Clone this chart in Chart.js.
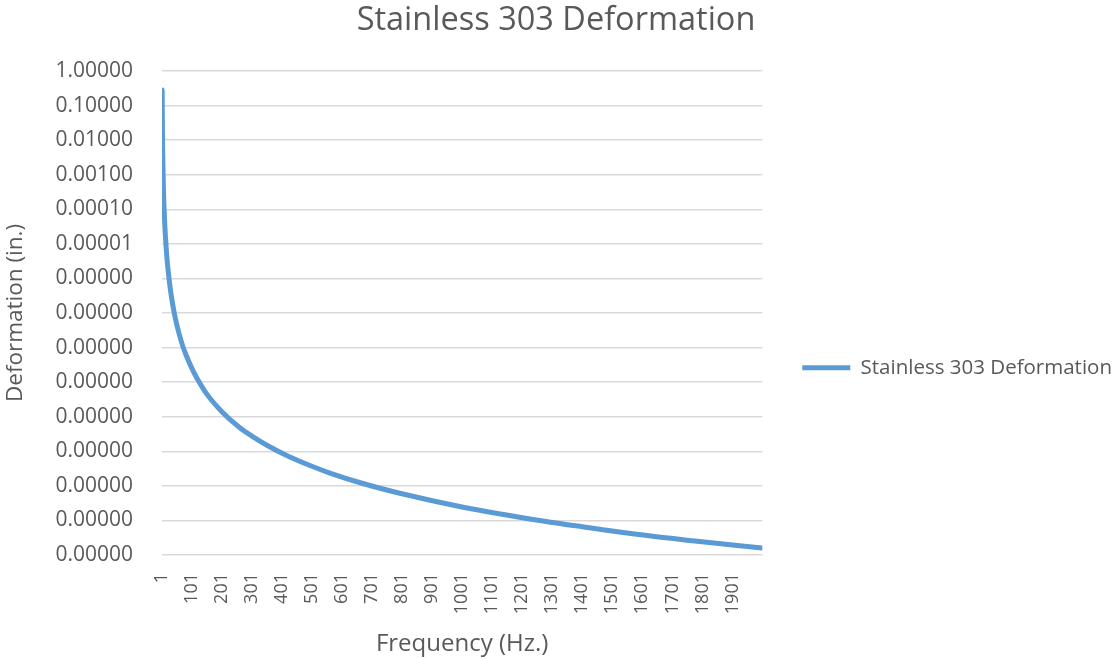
<!DOCTYPE html>
<html>
<head>
<meta charset="utf-8">
<title>Stainless 303 Deformation</title>
<script src="https://cdn.jsdelivr.net/npm/chart.js@4.4.0/dist/chart.umd.min.js"></script>
<style>
  html, body { margin: 0; padding: 0; background: #ffffff; }
  #wrap { width: 1117px; height: 659px; }
</style>
</head>
<body>
<div id="wrap"><canvas id="deformation-chart"></canvas></div>
<script>
const chartTitle = 'Stainless 303 Deformation';
const seriesName = 'Stainless 303 Deformation';
const xTitle = 'Frequency (Hz.)';
const yTitle = 'Deformation (in.)';

// frequency (Hz.) and deformation (in.)
const frequencies = [1, 2, 3, 5, 7, 10, 15, 20, 30, 40, 50, 67, 80, 100, 117, 150, 200,
  260, 300, 350, 416, 500, 560, 670, 800, 1000, 1275, 1400, 1624, 1800, 2000];
const deformation = [2.8e-1, 1.8e-2, 3.6e-3, 4.8e-4, 1.3e-4, 3.2e-5, 6.5e-6, 2.0e-6,
  3.8e-7, 1.15e-7, 4.5e-8, 1.3e-8, 6.3e-9, 2.5e-9, 1.3e-9, 4.5e-10, 1.4e-10,
  4.8e-11, 2.75e-11, 1.5e-11, 7.6e-12, 3.7e-12, 2.35e-12, 1.17e-12, 5.9e-13, 2.45e-13,
  9.5e-14, 6.6e-14, 3.6e-14, 2.4e-14, 1.6e-14];

const xTickValues = [1, 101, 201, 301, 401, 501, 601, 701, 801, 901, 1001, 1101, 1201, 1301,
  1401, 1501, 1601, 1701, 1801, 1901];
const yTickValues = [1, 1e-1, 1e-2, 1e-3, 1e-4, 1e-5, 1e-6, 1e-7, 1e-8, 1e-9, 1e-10, 1e-11,
  1e-12, 1e-13, 1e-14];
const yTickLabels = ['1.00000', '0.10000', '0.01000', '0.00100', '0.00010', '0.00001',
  '0.00000', '0.00000', '0.00000', '0.00000', '0.00000', '0.00000', '0.00000', '0.00000',
  '0.00000'];

const textGrey = '#595959';
const gridGrey = '#d9d9d9';
const lineBlue = '#5b9bd5';
const fontFamily = "'Open Sans', 'Noto Sans', sans-serif";

new Chart(document.getElementById('deformation-chart'), {
  type: 'line',
  data: {
    datasets: [
      {
        label: seriesName,
        data: frequencies.map((f, i) => ({ x: f, y: deformation[i] })),
        borderColor: lineBlue,
        backgroundColor: lineBlue,
        borderWidth: 5,
        borderCapStyle: 'round',
        borderJoinStyle: 'round',
        pointRadius: 0,
        cubicInterpolationMode: 'monotone',
        fill: false,
      },
    ],
  },
  options: {
    responsive: true,
    maintainAspectRatio: false,
    animation: false,
    layout: {
      padding: { left: -10, right: -5, top: 0, bottom: 0 },
    },
    plugins: {
      title: {
        display: true,
        text: chartTitle,
        color: textGrey,
        font: { family: fontFamily, size: 32.5, weight: 'normal' },
        padding: { top: 1, bottom: 31 },
      },
      legend: {
        position: 'right',
        maxWidth: 420,
        labels: {
          usePointStyle: true,
          pointStyle: 'line',
          pointStyleWidth: 48,
          padding: 40,
          color: textGrey,
          font: { family: fontFamily, size: 20.5 },
        },
        // empty title only pushes the entry down to the middle of the plot
        title: { display: true, text: '', padding: { top: 62, bottom: 0 } },
      },
      tooltip: { enabled: false },
    },
    scales: {
      x: {
        type: 'linear',
        min: 0.5,
        max: 2000.5,
        afterBuildTicks: (scale) => {
          scale.ticks = xTickValues.map((v) => ({ value: v }));
        },
        afterFit: (scale) => {
          scale.height = 104;
        },
        grid: { display: false },
        border: { display: false },
        ticks: {
          autoSkip: false,
          minRotation: 90,
          maxRotation: 90,
          padding: 10,
          color: textGrey,
          font: { family: fontFamily, size: 18 },
          callback: (value) => String(value),
        },
        title: {
          display: true,
          text: xTitle,
          color: textGrey,
          font: { family: fontFamily, size: 24 },
          padding: { top: 0, bottom: 0 },
        },
      },
      y: {
        type: 'logarithmic',
        min: 1e-14,
        max: 1,
        afterBuildTicks: (scale) => {
          scale.ticks = yTickValues.map((v) => ({ value: v }));
        },
        afterFit: (scale) => {
          scale.width = 172;
        },
        grid: { color: gridGrey, lineWidth: 1.5, drawTicks: false },
        border: { display: false },
        ticks: {
          autoSkip: false,
          padding: 29,
          color: textGrey,
          font: { family: fontFamily, size: 21 },
          callback: (value, index) => yTickLabels[index],
        },
        title: {
          display: true,
          text: yTitle,
          color: textGrey,
          font: { family: fontFamily, size: 22.5 },
          padding: { top: 12, bottom: 0 },
        },
      },
    },
  },
});
</script>
</body>
</html>
